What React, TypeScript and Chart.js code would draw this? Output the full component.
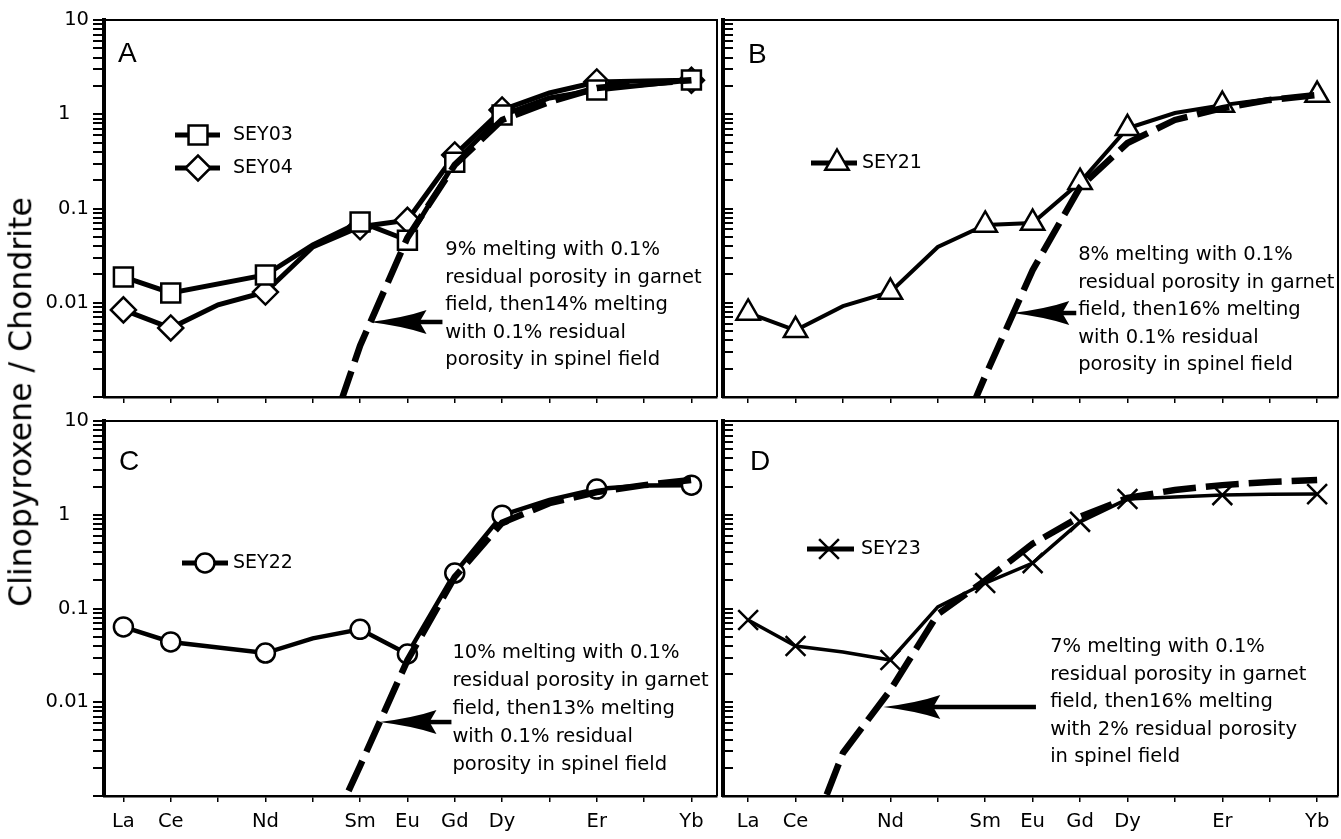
import React, { useEffect, useRef } from 'react';
import { Chart, registerables } from 'chart.js';

Chart.register(...registerables);

const FONT = 'DejaVu Sans';

// ---------- categories / ticks ----------
const elements = ['La', 'Ce', 'Pr', 'Nd', 'Pm', 'Sm', 'Eu', 'Gd', 'Dy', 'Ho', 'Er', 'Tm', 'Yb'];
const xTickLabels = ['La', 'Ce', '', 'Nd', '', 'Sm', 'Eu', 'Gd', 'Dy', '', 'Er', '', 'Yb'];
const markedIdx = [0, 1, 3, 5, 6, 7, 8, 10, 12];

const yMajorValues = [10, 1, 0.1, 0.01, 0.001];
const yMajorLabels = ['10', '1\u2007 ', '0.1', '0.01', ''];
const yMinorMultipliers = [2, 3, 4, 5, 6, 7, 8, 9];
const yMinorDecades = [0.001, 0.01, 0.1, 1];

// ---------- Panel A ----------
const sey03 = [0.0188, 0.0127, null, 0.0197, 0.041, 0.072, 0.046, 0.31, 0.98, 1.49, 1.81, 2.04, 2.31];
const sey04 = [0.0084, 0.0054, 0.0095, 0.013, 0.039, 0.064, 0.075, 0.37, 1.11, 1.68, 2.2, 2.25, 2.3];
const modelA = [null, null, null, null, 0.00012, 0.0035, 0.049, 0.29, 0.87, 1.35, 1.9, 2.1, 2.3];
const noteA = ['9% melting with 0.1%', 'residual porosity in garnet', 'field, then14% melting', 'with 0.1% residual', 'porosity in spinel field'];

// ---------- Panel B ----------
const sey21 = [0.0078, 0.0051, 0.0092, 0.013, 0.039, 0.067, 0.07, 0.19, 0.71, 1.03, 1.25, 1.45, 1.6];
const modelB = [null, null, null, null, 0.00011, 0.00167, 0.0222, 0.169, 0.495, 0.87, 1.16, 1.42, 1.6];
const noteB = ['8% melting with 0.1%', 'residual porosity in garnet', 'field, then16% melting', 'with 0.1% residual', 'porosity in spinel field'];

// ---------- Panel C ----------
const sey22 = [0.0636, 0.044, null, 0.0335, 0.048, 0.06, 0.0327, 0.239, 0.99, 1.44, 1.88, 2.05, 2.07];
const modelC = [null, null, null, null, 0.000166, 0.0021, 0.028, 0.217, 0.82, 1.33, 1.75, 2.07, 2.35];
const noteC = ['10% melting with 0.1%', 'residual porosity in garnet', 'field, then13% melting', 'with 0.1% residual', 'porosity in spinel field'];

// ---------- Panel D ----------
const sey23 = [0.0753, 0.0398, 0.0344, 0.0282, 0.104, 0.187, 0.305, 0.84, 1.47, 1.55, 1.62, 1.65, 1.66];
const modelD = [null, 0.000144, 0.00288, 0.0135, 0.087, 0.2, 0.49, 0.95, 1.51, 1.84, 2.07, 2.24, 2.35];
const noteD = ['7% melting with 0.1%', 'residual porosity in garnet', 'field, then16% melting', 'with 2% residual porosity', 'in spinel field'];

const yTitle = 'Clinopyroxene / Chondrite';

// ---------- helpers ----------
const yTickValues: number[] = (() => {
  const out: number[] = [];
  yMinorDecades.forEach((d) => {
    out.push(d);
    yMinorMultipliers.forEach((m) => out.push(Number((m * d).toPrecision(3))));
  });
  out.push(10);
  return out;
})();

function yLabel(v: number): string {
  const i = yMajorValues.findIndex((m) => Math.abs(m - v) / m < 1e-6);
  return i >= 0 ? yMajorLabels[i] : '';
}

const toXY = (vals: (number | null)[]) => vals.map((v, i) => ({ x: i, y: v }));

function drawMarker(ctx: CanvasRenderingContext2D, style: string, x: number, y: number, r: number) {
  ctx.beginPath();
  if (style === 'rect') {
    const s = Math.SQRT1_2 * r;
    ctx.rect(x - s, y - s, 2 * s, 2 * s);
  } else if (style === 'rectRot') {
    ctx.moveTo(x - r, y);
    ctx.lineTo(x, y - r);
    ctx.lineTo(x + r, y);
    ctx.lineTo(x, y + r);
    ctx.closePath();
  } else if (style === 'triangle') {
    ctx.moveTo(x, y - r);
    ctx.lineTo(x + 0.866 * r, y + 0.5 * r);
    ctx.lineTo(x - 0.866 * r, y + 0.5 * r);
    ctx.closePath();
  } else if (style === 'circle') {
    ctx.arc(x, y, r, 0, Math.PI * 2);
  } else if (style === 'crossRot') {
    const o = Math.SQRT1_2 * r;
    ctx.moveTo(x - o, y - o);
    ctx.lineTo(x + o, y + o);
    ctx.moveTo(x + o, y - o);
    ctx.lineTo(x - o, y + o);
  }
  if (style !== 'crossRot') {
    ctx.fillStyle = '#fff';
    ctx.fill();
  }
  ctx.stroke();
}

type Series = { label: string; values: (number | null)[]; style: string; radius: number; lineWidth: number; markerWidth: number };
type LegendItem = { style: string; radius: number; lineWidth: number; markerWidth: number; text: string; x0: number; x1: number; xm: number; y: number; textX: number };
type PanelCfg = {
  box: { left: number; top: number; width: number; height: number };
  area: { left: number; top: number; right: number; bottom: number };
  xMin: number;
  xMax: number;
  showY: boolean;
  showX: boolean;
  ticksInside: boolean;
  series: Series[];
  model: (number | null)[];
  letter: { text: string; dx: number; dy: number };
  legend: LegendItem[];
  note: { lines: string[]; x: number; y: number; pitch: number };
  arrow: { tipX: number; tipY: number; tailX: number };
};

const panels: PanelCfg[] = [
  {
    box: { left: 0, top: 0, width: 719, height: 420 },
    area: { left: 104, top: 20, right: 717, bottom: 397 },
    xMin: -0.41, xMax: 12.54, showY: true, showX: false, ticksInside: false,
    series: [
      { label: 'SEY03', values: sey03, style: 'rect', radius: 13.4, lineWidth: 5, markerWidth: 2.5 },
      { label: 'SEY04', values: sey04, style: 'rectRot', radius: 12.5, lineWidth: 5, markerWidth: 2.5 },
    ],
    model: modelA,
    letter: { text: 'A', dx: 14, dy: 42 },
    legend: [
      { style: 'rect', radius: 13.4, lineWidth: 5, markerWidth: 2.5, text: 'SEY03', x0: 71, x1: 116, xm: 94, y: 115, textX: 129 },
      { style: 'rectRot', radius: 12.5, lineWidth: 5, markerWidth: 2.5, text: 'SEY04', x0: 71, x1: 116, xm: 94, y: 148, textX: 129 },
    ],
    note: { lines: noteA, x: 6.8, y: 0.0363, pitch: 27.5 },
    arrow: { tipX: 5.2, tipY: 0.00625, tailX: 6.74 },
  },
  {
    box: { left: 700, top: 0, width: 641, height: 420 },
    area: { left: 723, top: 20, right: 1338, bottom: 397 },
    xMin: -0.53, xMax: 12.44, showY: false, showX: false, ticksInside: true,
    series: [{ label: 'SEY21', values: sey21, style: 'triangle', radius: 13.5, lineWidth: 4, markerWidth: 2.5 }],
    model: modelB,
    letter: { text: 'B', dx: 25, dy: 43 },
    legend: [{ style: 'triangle', radius: 13.5, lineWidth: 5, markerWidth: 2.5, text: 'SEY21', x0: 88, x1: 134, xm: 114, y: 143, textX: 139 }],
    note: { lines: noteB, x: 6.96, y: 0.0321, pitch: 27.5 },
    arrow: { tipX: 5.57, tipY: 0.00778, tailX: 6.92 },
  },
  {
    box: { left: 0, top: 400, width: 719, height: 439 },
    area: { left: 104, top: 421, right: 717, bottom: 796 },
    xMin: -0.41, xMax: 12.54, showY: true, showX: true, ticksInside: false,
    series: [{ label: 'SEY22', values: sey22, style: 'circle', radius: 9.5, lineWidth: 4.5, markerWidth: 2.5 }],
    model: modelC,
    letter: { text: 'C', dx: 15, dy: 49 },
    legend: [{ style: 'circle', radius: 9.5, lineWidth: 5, markerWidth: 2.5, text: 'SEY22', x0: 78, x1: 124, xm: 101, y: 142, textX: 129 }],
    note: { lines: noteC, x: 6.95, y: 0.0335, pitch: 28 },
    arrow: { tipX: 5.41, tipY: 0.00615, tailX: 6.93 },
  },
  {
    box: { left: 700, top: 400, width: 641, height: 439 },
    area: { left: 723, top: 421, right: 1338, bottom: 796 },
    xMin: -0.53, xMax: 12.44, showY: false, showX: true, ticksInside: true,
    series: [{ label: 'SEY23', values: sey23, style: 'crossRot', radius: 14, lineWidth: 3.5, markerWidth: 2.5 }],
    model: modelD,
    letter: { text: 'D', dx: 27, dy: 49 },
    legend: [{ style: 'crossRot', radius: 14, lineWidth: 5, markerWidth: 2.5, text: 'SEY23', x0: 84, x1: 131, xm: 106, y: 128, textX: 138 }],
    note: { lines: noteD, x: 6.37, y: 0.0388, pitch: 27.5 },
    arrow: { tipX: 2.85, tipY: 0.00889, tailX: 6.07 },
  },
];

function makeDeco(cfg: PanelCfg) {
  return {
    id: 'deco' + cfg.letter.text,
    beforeDatasetsDraw(chart: any) {
      const { ctx, chartArea: a } = chart;
      ctx.save();
      ctx.strokeStyle = '#000';
      ctx.lineWidth = 2;
      ctx.beginPath();
      ctx.moveTo(a.left, a.top);
      ctx.lineTo(a.right, a.top);
      ctx.lineTo(a.right, a.bottom);
      ctx.stroke();
      ctx.restore();
    },
    afterDatasetsDraw(chart: any) {
      const { ctx, chartArea: a, scales } = chart;
      const xs = scales.x;
      const ys = scales.y;
      ctx.save();
      ctx.fillStyle = '#000';
      ctx.strokeStyle = '#000';
      // panel letter
      ctx.font = `28px "Liberation Sans"`;
      ctx.textAlign = 'left';
      ctx.textBaseline = 'alphabetic';
      ctx.fillText(cfg.letter.text, a.left + cfg.letter.dx, a.top + cfg.letter.dy);
      // legend
      cfg.legend.forEach((it) => {
        const y = a.top + it.y;
        ctx.lineWidth = it.lineWidth;
        ctx.beginPath();
        ctx.moveTo(a.left + it.x0, y);
        ctx.lineTo(a.left + it.x1, y);
        ctx.stroke();
        ctx.lineWidth = it.markerWidth;
        drawMarker(ctx, it.style, a.left + it.xm, y, it.radius);
        ctx.fillStyle = '#000';
        ctx.font = `19px "${FONT}"`;
        ctx.textBaseline = 'middle';
        ctx.fillText(it.text, a.left + it.textX, y);
      });
      // note text
      ctx.font = `19.5px "${FONT}"`;
      ctx.textBaseline = 'middle';
      ctx.fillStyle = '#000';
      const nx = xs.getPixelForValue(cfg.note.x);
      const ny = ys.getPixelForValue(cfg.note.y);
      cfg.note.lines.forEach((ln, i) => ctx.fillText(ln, nx, ny + i * cfg.note.pitch));
      // arrow
      const tx = xs.getPixelForValue(cfg.arrow.tipX);
      const ty = ys.getPixelForValue(cfg.arrow.tipY);
      const tail = xs.getPixelForValue(cfg.arrow.tailX);
      const L = 57;
      const H = 12;
      ctx.lineWidth = 4.5;
      ctx.beginPath();
      ctx.moveTo(tail, ty);
      ctx.lineTo(tx + L - 8, ty);
      ctx.stroke();
      ctx.beginPath();
      ctx.moveTo(tx, ty);
      ctx.quadraticCurveTo(tx + L * 0.6, ty - H * 0.35, tx + L, ty - H);
      ctx.lineTo(tx + L - 7, ty);
      ctx.lineTo(tx + L, ty + H);
      ctx.quadraticCurveTo(tx + L * 0.6, ty + H * 0.35, tx, ty);
      ctx.closePath();
      ctx.fill();
      ctx.restore();
    },
  };
}

function buildConfig(cfg: PanelCfg): any {
  const yAxisW = cfg.area.left - cfg.box.left;
  const padTop = cfg.area.top - cfg.box.top;
  const padRight = cfg.box.left + cfg.box.width - cfg.area.right;
  const xAxisH = cfg.box.top + cfg.box.height - cfg.area.bottom;
  const radiusFor = (r: number) => elements.map((_, i) => (markedIdx.includes(i) ? r : 0));

  const datasets: any[] = [
    {
      label: 'model',
      data: toXY(cfg.model),
      borderColor: '#000',
      borderWidth: 6.5,
      borderDash: [33, 10],
      borderCapStyle: 'butt',
      pointRadius: 0,
      fill: false,
      tension: 0,
      clip: 0,
      order: 0,
    },
    ...cfg.series.map((s, k) => ({
      label: s.label,
      data: toXY(s.values),
      borderColor: '#000',
      borderWidth: s.lineWidth,
      pointStyle: s.style,
      pointRadius: radiusFor(s.radius),
      pointBackgroundColor: '#fff',
      pointBorderColor: '#000',
      pointBorderWidth: s.markerWidth,
      spanGaps: true,
      fill: false,
      tension: 0,
      order: k + 1,
    })),
  ];

  return {
    type: 'line',
    data: { datasets },
    plugins: [makeDeco(cfg)],
    options: {
      responsive: false,
      animation: false,
      devicePixelRatio: 1,
      events: [],
      layout: { autoPadding: false, padding: { top: padTop, right: padRight, left: 0, bottom: 0 } },
      plugins: { legend: { display: false }, tooltip: { enabled: false } },
      scales: {
        x: {
          type: 'linear',
          min: cfg.xMin,
          max: cfg.xMax,
          afterBuildTicks: (s: any) => {
            s.ticks = elements.map((_, i) => ({ value: i }));
          },
          afterFit: (s: any) => {
            s.height = xAxisH;
          },
          ticks: {
            display: cfg.showX,
            autoSkip: false,
            maxRotation: 0,
            minRotation: 0,
            padding: 8,
            color: '#000',
            font: { family: FONT, size: 19.5 },
            callback: (v: number) => xTickLabels[Math.round(v)] ?? '',
          },
          grid: { display: true, drawOnChartArea: false, drawTicks: true, tickLength: 6, color: '#000', lineWidth: 1.5 },
          border: { display: true, color: '#000', width: 2.5 },
        },
        y: {
          type: 'logarithmic',
          min: 0.001,
          max: 10,
          afterBuildTicks: (s: any) => {
            s.ticks = yTickValues.map((v) => ({ value: v }));
          },
          afterFit: (s: any) => {
            s.width = yAxisW;
          },
          ticks: {
            display: cfg.showY,
            autoSkip: false,
            padding: 4,
            color: '#000',
            font: { family: FONT, size: 19.5 },
            callback: (v: number) => yLabel(v),
          },
          grid: {
            display: true,
            drawOnChartArea: false,
            drawTicks: true,
            tickLength: cfg.ticksInside ? -10 : 11,
            color: '#000',
            lineWidth: 2,
          },
          border: { display: true, color: '#000', width: 4 },
        },
      },
    },
  };
}

function Panel({ cfg }: { cfg: PanelCfg }) {
  const ref = useRef<HTMLCanvasElement>(null);
  useEffect(() => {
    const chart = new Chart(ref.current as HTMLCanvasElement, buildConfig(cfg));
    return () => chart.destroy();
  }, [cfg]);
  return (
    <canvas
      ref={ref}
      width={cfg.box.width}
      height={cfg.box.height}
      style={{ position: 'absolute', left: cfg.box.left, top: cfg.box.top, width: cfg.box.width, height: cfg.box.height }}
    />
  );
}

export default function App() {
  return (
    <div style={{ position: 'absolute', left: 0, top: 0, width: 1341, height: 839, background: '#fff', overflow: 'hidden' }}>
      {panels.map((p, i) => (
        <Panel key={i} cfg={p} />
      ))}
      <div
        style={{
          position: 'absolute',
          left: 21,
          top: 402,
          transform: 'translate(-50%, -50%) rotate(-90deg)',
          whiteSpace: 'nowrap',
          fontFamily: `"${FONT}"`,
          fontSize: 31.5,
          color: '#000',
          lineHeight: 1,
        }}
      >
        {yTitle}
      </div>
    </div>
  );
}
